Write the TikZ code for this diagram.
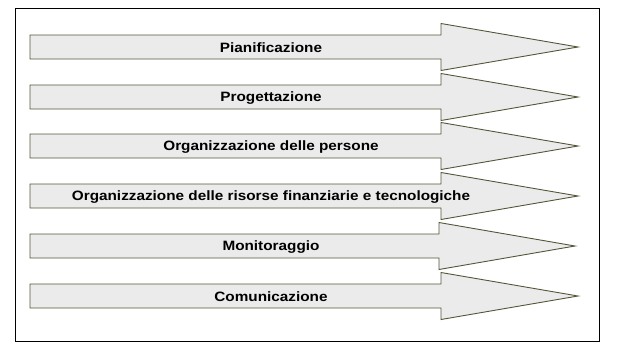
\documentclass[tikz,border=0pt]{standalone}
\usepackage{fontspec}
\setmainfont[FakeStretch=1.13]{Liberation Sans}
\definecolor{arrowline}{HTML}{55553A}
\definecolor{arrowfill}{HTML}{EBEBEB}
\begin{document}
\begin{tikzpicture}[x=1bp,y=-1bp,
  arrowshape/.style={draw=arrowline,fill=arrowfill,line width=0.9bp,line join=miter},
  frame/.style={draw=black,line width=1bp},
  label/.style={font=\fontsize{13.6}{15}\selectfont\bfseries,inner sep=0pt,text=black}]
\useasboundingbox (0,0) rectangle (617,350);
\draw[frame] (15,8) rectangle (599,341);
\foreach \cy/\bx/\tx/\name/\txt in {
  47/441/578/a1/Pianificazione,
  97/441/578/a2/Progettazione,
  146/441/578/a3/Organizzazione delle persone,
  196/441/578/a4/Organizzazione delle risorse finanziarie e tecnologiche,
  246/439/575/a5/Monitoraggio,
  296/441/578/a6/Comunicazione}{
  \draw[arrowshape] (30,\cy-12) -- (\bx,\cy-12) -- (\bx,\cy-23.5) -- (\tx,\cy)
    -- (\bx,\cy+23.5) -- (\bx,\cy+12) -- (30,\cy+12) -- cycle;
  \node[label] (\name) at (271,\cy+1) {\txt};
}
\end{tikzpicture}
\end{document}
